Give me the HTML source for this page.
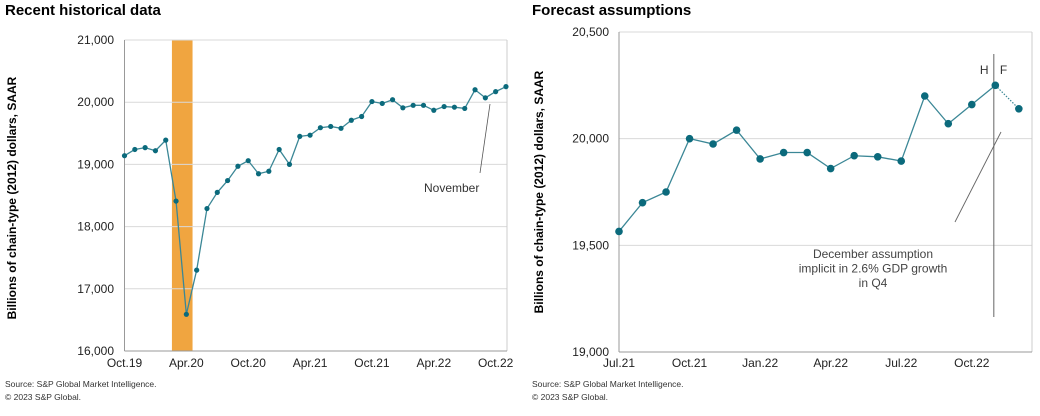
<!DOCTYPE html>
<html><head><meta charset="utf-8"><style>
body{margin:0;background:#fff;}
svg{display:block;font-family:"Liberation Sans",Arial,sans-serif;}
</style></head><body>
<svg id="c" width="1040" height="416" viewBox="0 0 1040 416"></svg>
<script>
const leftMonths = ["Oct.19","Nov.19","Dec.19","Jan.20","Feb.20","Mar.20","Apr.20","May.20","Jun.20","Jul.20","Aug.20","Sep.20","Oct.20","Nov.20","Dec.20","Jan.21","Feb.21","Mar.21","Apr.21","May.21","Jun.21","Jul.21","Aug.21","Sep.21","Oct.21","Nov.21","Dec.21","Jan.22","Feb.22","Mar.22","Apr.22","May.22","Jun.22","Jul.22","Aug.22","Sep.22","Oct.22","Nov.22"];
const leftValues = [19140,19240,19270,19220,19390,18410,16590,17300,18290,18550,18740,18970,19060,18850,18890,19240,19000,19450,19470,19590,19610,19580,19710,19770,20010,19980,20040,19910,19950,19950,19870,19930,19920,19900,20200,20070,20170,20250];
const leftYTicks = [16000,17000,18000,19000,20000,21000];
const leftYLabels = ["16,000","17,000","18,000","19,000","20,000","21,000"];
const leftXTickIdx = [0,6,12,18,24,30,36];
const leftXLabels = ["Oct.19","Apr.20","Oct.20","Apr.21","Oct.21","Apr.22","Oct.22"];
const recessionIdx = [4.6,6.6];

const rightValues = [19565,19700,19750,20000,19975,20040,19905,19935,19935,19860,19920,19915,19895,20200,20070,20160,20250];
const rightForecast = [20140];
const rightYTicks = [19000,19500,20000,20500];
const rightYLabels = ["19,000","19,500","20,000","20,500"];
const rightXTickIdx = [0,3,6,9,12,15];
const rightXLabels = ["Jul.21","Oct.21","Jan.22","Apr.22","Jul.22","Oct.22"];

const NS="http://www.w3.org/2000/svg";
const svg=document.getElementById('c');
function mk(tag,attrs,parent){const e=document.createElementNS(NS,tag);for(const k in attrs)e.setAttribute(k,attrs[k]);(parent||svg).appendChild(e);return e;}
function txt(s,attrs){const e=mk('text',attrs);e.textContent=s;return e;}

// ---- LEFT ----
const L={x0:124.5,step:10.31,y0:351,yTop:40,min:16000,max:21000,right:507};
const lx=i=>L.x0+i*L.step;
const ly=v=>L.y0-(v-L.min)/(L.max-L.min)*(L.y0-L.yTop);
let t=txt("Recent historical data",{x:5,y:15,"font-size":15,"font-weight":"bold",fill:"#000"});

let r=mk('rect',{x:lx(recessionIdx[0]),y:L.yTop,width:lx(recessionIdx[1])-lx(recessionIdx[0]),height:L.y0-L.yTop,fill:"#f0a540"});

leftYTicks.forEach((v,i)=>{
  const g=mk('line',{x1:L.x0,x2:L.right,y1:ly(v),y2:ly(v),stroke:"#d9d9d9","stroke-width":1});
  
  const l=txt(leftYLabels[i],{x:114,y:ly(v)+4,"font-size":12,"text-anchor":"end",fill:"#222"});
  
});
let a=mk('line',{x1:L.x0,x2:L.x0,y1:L.yTop,y2:L.y0,stroke:"#999"});
a=mk('line',{x1:L.right,x2:L.right,y1:L.yTop,y2:L.y0,stroke:"#ccc"});
a=mk('line',{x1:L.x0,x2:L.right,y1:L.y0,y2:L.y0,stroke:"#999"});
leftXTickIdx.forEach((idx,i)=>{
  const l=txt(leftXLabels[i],{x:lx(idx),y:367,"font-size":12,"text-anchor":"middle",fill:"#222"});
  
});
let p=mk('polyline',{points:leftValues.map((v,i)=>lx(i)+","+ly(v)).join(" "),fill:"none",stroke:"#3b8796","stroke-width":1.3});

leftValues.forEach((v,i)=>{const c=mk('circle',{cx:lx(i),cy:ly(v),r:2.6,fill:"#0b6a7c"});
  });
a=mk('line',{x1:490,y1:104,x2:480,y2:173,stroke:"#555","stroke-width":0.8});
t=txt("November",{x:424,y:192,"font-size":12,fill:"#333"});
t=txt("Billions of chain-type (2012) dollars, SAAR",{transform:"translate(16,198) rotate(-90)","font-size":12,"font-weight":"bold","text-anchor":"middle",fill:"#000"});


// ---- RIGHT ----
const R={x0:619,step:23.52,y0:352,yTop:32,min:19000,max:20500,right:1032};
const rx=i=>R.x0+i*R.step;
const ry=v=>R.y0-(v-R.min)/(R.max-R.min)*(R.y0-R.yTop);
t=txt("Forecast assumptions",{x:532,y:15,"font-size":15,"font-weight":"bold",fill:"#000"});

rightYTicks.forEach((v,i)=>{
  const g=mk('line',{x1:R.x0,x2:R.right,y1:ry(v),y2:ry(v),stroke:"#d9d9d9"});
  
  const l=txt(rightYLabels[i],{x:609,y:ry(v)+4,"font-size":12,"text-anchor":"end",fill:"#222"});
  
});
a=mk('line',{x1:R.x0,x2:R.x0,y1:R.yTop,y2:R.y0,stroke:"#999"});
a=mk('line',{x1:R.right,x2:R.right,y1:R.yTop,y2:R.y0,stroke:"#ccc"});
a=mk('line',{x1:R.x0,x2:R.right,y1:R.y0,y2:R.y0,stroke:"#999"});
rightXTickIdx.forEach((idx,i)=>{
  const l=txt(rightXLabels[i],{x:rx(idx),y:367,"font-size":12,"text-anchor":"middle",fill:"#222"});
  
});
const n=rightValues.length;
const hfx=rx(n-1)-1.5;
a=mk('line',{x1:hfx,x2:hfx,y1:54,y2:317,stroke:"#666","stroke-width":1});
t=txt("H",{x:hfx-14,y:74,"font-size":12,fill:"#333"});
t=txt("F",{x:hfx+6,y:74,"font-size":12,fill:"#333"});
p=mk('polyline',{points:rightValues.map((v,i)=>rx(i)+","+ry(v)).join(" "),fill:"none",stroke:"#3b8796","stroke-width":1.3});

p=mk('line',{x1:rx(n-1),y1:ry(rightValues[n-1]),x2:rx(n),y2:ry(rightForecast[0]),stroke:"#3b8796","stroke-width":1.2,"stroke-dasharray":"1.5,1.5"});

rightValues.forEach((v,i)=>{const c=mk('circle',{cx:rx(i),cy:ry(v),r:3.8,fill:"#0b6a7c"});
  });
let c=mk('circle',{cx:rx(n),cy:ry(rightForecast[0]),r:3.8,fill:"#0b6a7c"});

a=mk('line',{x1:955,y1:222,x2:1001,y2:132,stroke:"#666","stroke-width":0.9});
["December assumption","implicit in 2.6% GDP growth","in Q4"].forEach((s,i)=>{
  const e=txt(s,{x:873,y:258+i*14.5,"font-size":12,"text-anchor":"middle",fill:"#444"});
  
});
t=txt("Billions of chain-type (2012) dollars, SAAR",{transform:"translate(543,192) rotate(-90)","font-size":12,"font-weight":"bold","text-anchor":"middle",fill:"#000"});


// sources
[[5],[532]].forEach(([x])=>{
  let s=txt("Source: S&P Global Market Intelligence.",{x:x,y:387,"font-size":8.5,fill:"#333"});
  
  s=txt("© 2023 S&P Global.",{x:x,y:400,"font-size":8.5,fill:"#333"});
  
});
</script>
</body></html>
